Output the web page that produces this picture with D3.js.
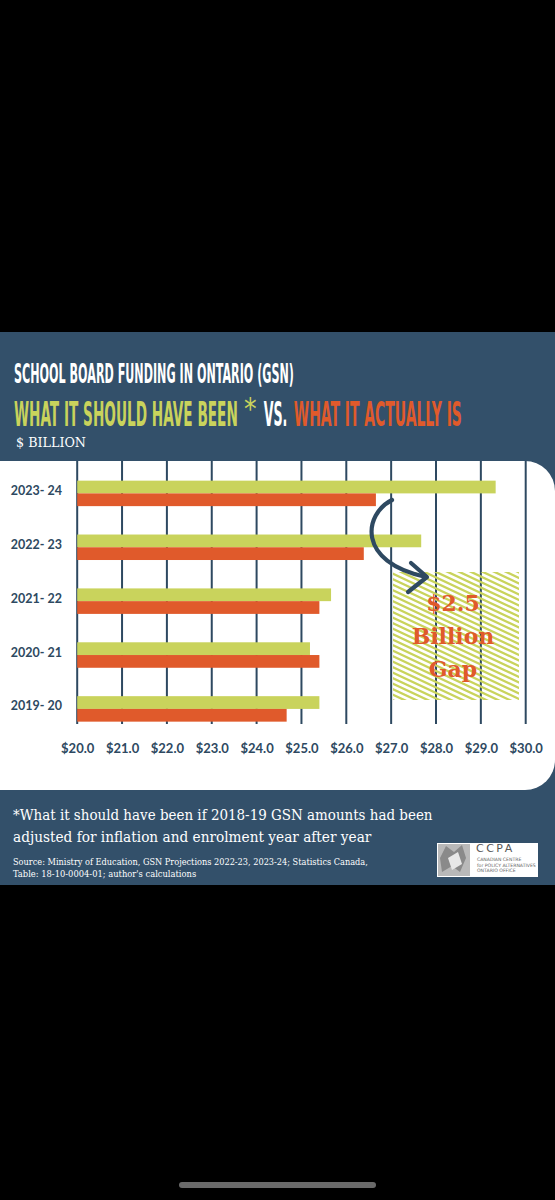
<!DOCTYPE html>
<html><head><meta charset="utf-8">
<script src="https://cdn.jsdelivr.net/npm/d3@7"></script>
<style>html,body{margin:0;padding:0;background:#000;}svg{display:block}</style>
</head><body>
<script>
// ---- data ----
const categories = ["2023- 24", "2022- 23", "2021- 22", "2020- 21", "2019- 20"];
const shouldHaveBeen = [29.33, 27.67, 25.66, 25.19, 25.40];
const actuallyIs = [26.66, 26.39, 25.40, 25.40, 24.67];
const tickValues = [20, 21, 22, 23, 24, 25, 26, 27, 28, 29, 30];
const tickLabels = ["$20.0", "$21.0", "$22.0", "$23.0", "$24.0", "$25.0", "$26.0", "$27.0", "$28.0", "$29.0", "$30.0"];
const gapLabel = ["$2.5", "Billion", "Gap"];

// ---- styles ----
const C = { panel: "#33506a", slate: "#2e4961", green: "#c9d35c", orange: "#e05a2b", white: "#ffffff" };
const W = 555, H = 1200;

const svg = d3.select("body").append("svg").attr("width", W).attr("height", H);
svg.append("rect").attr("width", W).attr("height", H).attr("fill", "#000");

// dark panel
svg.append("rect").attr("x", 0).attr("y", 332).attr("width", W).attr("height", 553).attr("fill", C.panel);

// white chart card with rounded right corners
const cardTop = 461, cardBot = 790, r = 30;
svg.append("path").attr("fill", C.white)
  .attr("d", `M0,${cardTop} H${W - r} A${r},${r} 0 0 1 ${W},${cardTop + r} V${cardBot - r} A${r},${r} 0 0 1 ${W - r},${cardBot} H0 Z`);

// text fitted to a width by horizontal scaling
function fitText(parent, x, y, txt, opts) {
  const t = parent.append("text").attr("x", 0).attr("y", 0).text(txt)
    .attr("font-family", opts.family).attr("font-size", opts.size).attr("fill", opts.fill);
  if (opts.weight) t.attr("font-weight", opts.weight);
  const nat = t.node().getComputedTextLength() || opts.len;
  const sx = opts.len / nat;
  t.attr("transform", `translate(${x},${y}) scale(${sx},1)`);
  return t;
}

const condensed = "'Liberation Sans Narrow','DejaVu Sans Condensed','Roboto Condensed',sans-serif";
fitText(svg, 14, 383, "SCHOOL BOARD FUNDING IN ONTARIO (GSN)", { family: condensed, weight: "bold", size: 26.5, fill: C.white, len: 280 });
fitText(svg, 14, 425.6, "WHAT IT SHOULD HAVE BEEN", { family: condensed, weight: "bold", size: 34, fill: C.green, len: 224 });
fitText(svg, 244, 419, "*", { family: condensed, weight: "normal", size: 30, fill: C.green, len: 12.6 });
fitText(svg, 263.7, 425.6, "VS.", { family: condensed, weight: "bold", size: 34, fill: C.white, len: 23.7 });
fitText(svg, 293.8, 425.6, "WHAT IT ACTUALLY IS", { family: condensed, weight: "bold", size: 34, fill: C.orange, len: 168.2 });
fitText(svg, 16, 447, "$ BILLION", { family: "'DejaVu Serif','Liberation Serif',serif", size: 13, fill: C.white, len: 70 });

// scales
const x = d3.scaleLinear().domain([20, 30]).range([77.2, 525.7]);
const y = d3.scaleBand().domain(categories).range([466.45, 735.85]).paddingInner(0.527).paddingOuter(0.2635);
const sub = d3.scaleBand().domain(["should", "actual"]).range([0, y.bandwidth()]);

// gridlines
svg.append("g").selectAll("line").data(tickValues).join("line")
  .attr("x1", d => x(d)).attr("x2", d => x(d))
  .attr("y1", cardTop).attr("y2", 724)
  .attr("stroke", C.slate).attr("stroke-width", 2);

// hatched gap area
const hx0 = 393, hx1 = 519, hy0 = 572, hy1 = 700;
svg.append("clipPath").attr("id", "hclip").append("rect")
  .attr("x", hx0).attr("y", hy0).attr("width", hx1 - hx0).attr("height", hy1 - hy0);
const hatchOffsets = d3.range(-80, 140, 5.5);
svg.append("g").attr("clip-path", "url(#hclip)").selectAll("line").data(hatchOffsets).join("line")
  .attr("x1", hx0 - 10).attr("y1", d => hy0 + d)
  .attr("x2", hx1 + 10).attr("y2", d => hy0 + d + (hx1 - hx0 + 20) * 0.47)
  .attr("stroke", C.green).attr("stroke-width", 2.3).attr("stroke-linecap", "round");

// bars
const rows = categories.map((c, i) => ({ c, should: shouldHaveBeen[i], actual: actuallyIs[i] }));
const g = svg.append("g");
g.selectAll("rect.s").data(rows).join("rect").attr("class", "s")
  .attr("x", x(20)).attr("y", d => y(d.c) + sub("should"))
  .attr("width", d => x(d.should) - x(20)).attr("height", sub.bandwidth())
  .attr("fill", C.green);
g.selectAll("rect.a").data(rows).join("rect").attr("class", "a")
  .attr("x", x(20)).attr("y", d => y(d.c) + sub("actual"))
  .attr("width", d => x(d.actual) - x(20)).attr("height", sub.bandwidth())
  .attr("fill", C.orange);

// category labels
g.selectAll("text.cat").data(categories).join("text").attr("class", "cat")
  .attr("x", 62).attr("y", d => y(d) + y.bandwidth() / 2 - 3)
  .attr("text-anchor", "end").attr("dominant-baseline", "central")
  .attr("font-family", "Lato, 'Open Sans', sans-serif").attr("font-weight", "bold")
  .attr("font-size", 12.5).attr("fill", C.slate).text(d => d);

// x axis labels
const axis = d3.axisBottom(x).tickValues(tickValues).tickSize(0).tickPadding(0)
  .tickFormat((d, i) => tickLabels[i]);
const ax = svg.append("g").attr("transform", "translate(0,744)").call(axis);
ax.select(".domain").remove();
ax.selectAll("text").attr("font-family", "Lato, 'Open Sans', sans-serif").attr("font-weight", "bold")
  .attr("font-size", 13).attr("fill", C.slate);

// arrow
svg.append("path").attr("d", "M392,500 C364,514 356,562 426,577")
  .attr("fill", "none").attr("stroke", C.slate).attr("stroke-width", 4.2).attr("stroke-linecap", "round");
svg.append("path").attr("d", "M411,563 L427,577 L408,592")
  .attr("fill", "none").attr("stroke", C.slate).attr("stroke-width", 4.2)
  .attr("stroke-linecap", "round").attr("stroke-linejoin", "round");

// gap text
svg.append("g").selectAll("text").data(gapLabel).join("text")
  .attr("x", 453).attr("y", (d, i) => 611 + i * 33)
  .attr("text-anchor", "middle")
  .attr("font-family", "'DejaVu Serif','Liberation Serif',serif").attr("font-weight", "bold")
  .attr("font-size", 22).attr("fill", C.orange).text(d => d);

// footnotes
const serif = "'DejaVu Serif Condensed','DejaVu Serif','Liberation Serif',serif";
fitText(svg, 13, 820, "*What it should have been if 2018-19 GSN amounts had been", { family: serif, size: 15.5, fill: C.white, len: 420 });
fitText(svg, 13, 841.5, "adjusted for inflation and enrolment year after year", { family: serif, size: 15.5, fill: C.white, len: 358.7 });
fitText(svg, 13, 864.5, "Source: Ministry of Education, GSN Projections 2022-23, 2023-24; Statistics Canada,", { family: serif, size: 9.8, fill: C.white, len: 355 });
fitText(svg, 13, 876.5, "Table: 18-10-0004-01; author's calculations", { family: serif, size: 9.8, fill: C.white, len: 183.5 });

// CCPA logo
const logo = svg.append("g");
logo.append("rect").attr("x", 437).attr("y", 843).attr("width", 101).attr("height", 34).attr("fill", "#fff");
logo.append("rect").attr("x", 438).attr("y", 844).attr("width", 32).attr("height", 32).attr("fill", "#b9b9b9");
logo.append("path").attr("d", "M446,846 L454,852 L462,845 L466,858 L460,872 L452,866 L442,872 L440,858 Z").attr("fill", "#8a8a8a");
logo.append("path").attr("d", "M448,858 L458,852 L462,864 L452,870 Z").attr("fill", "#e8e8e8");
logo.append("text").attr("x", 476).attr("y", 852).text("CCPA")
  .attr("font-family", "'DejaVu Sans',sans-serif").attr("font-size", 11).attr("letter-spacing", 2.5).attr("fill", "#555");
["CANADIAN CENTRE", "for POLICY ALTERNATIVES", "ONTARIO OFFICE"].forEach((s, i) => {
  logo.append("text").attr("x", 477).attr("y", 861 + i * 5.5).text(s)
    .attr("font-family", "'DejaVu Sans',sans-serif").attr("font-size", 4.6).attr("fill", "#666");
});

// home indicator
svg.append("rect").attr("x", 179).attr("y", 1182).attr("width", 197).attr("height", 6).attr("rx", 3).attr("fill", "#6a6a6a");
</script>
</body></html>
